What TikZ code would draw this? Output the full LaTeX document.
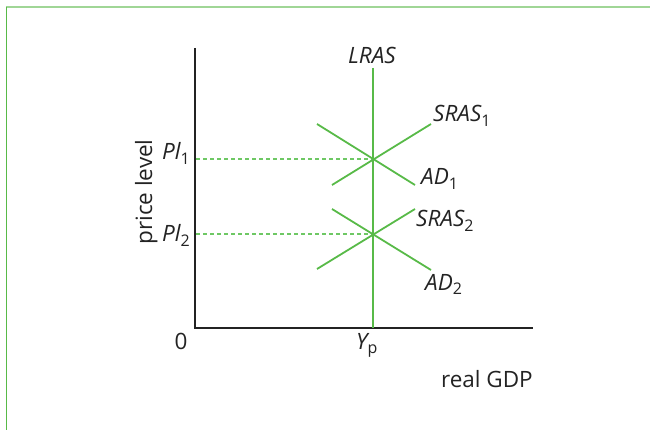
\documentclass[tikz,border=0pt]{standalone}
\usepackage{fontspec}
\setmainfont{Open Sans}
\definecolor{curve}{RGB}{88,186,72}
\definecolor{dashgreen}{RGB}{110,200,100}
\definecolor{frametop}{RGB}{160,214,150}
\definecolor{axis}{RGB}{35,35,35}
\newcommand{\lowsub}[1]{\raisebox{-0.22em}{\upshape\fontsize{16}{16}\selectfont #1}}
\begin{document}
\begin{tikzpicture}[x=1pt,y=-1pt,
  curveline/.style={draw=curve,line width=1.8pt},
  axisline/.style={draw=axis,line width=1.8pt},
  guide/.style={draw=dashgreen,line width=1.2pt,dash pattern=on 4pt off 3pt},
  lbl/.style={font=\fontsize{22.5}{26}\selectfont\itshape,text=axis,inner sep=0pt},
  plain/.style={font=\fontsize{22.5}{26}\selectfont,text=axis,inner sep=0pt}]
\useasboundingbox (0,0) rectangle (650,430);
% frame
\draw[frametop,line width=2pt] (6,7) -- (650,7);
\draw[curve,line width=1.6pt] (6.5,7) -- (6.5,430);
% axes
\coordinate (O) at (195,328);
\coordinate (ytop) at (195,48);
\coordinate (xend) at (533,328);
\draw[axisline] (ytop) -- (O) -- (xend);
% LRAS
\coordinate (lrasT) at (373,68);
\coordinate (lrasB) at (373,328);
\draw[curveline] (lrasT) -- (lrasB);
% equilibria
\coordinate (E1) at (373,159);
\coordinate (E2) at (373,234);
\coordinate (p1) at (196,159);
\coordinate (p2) at (196,234);
\draw[guide] (p1) -- (E1);
\draw[guide] (p2) -- (E2);
% curves
\coordinate (s1a) at (332,185); \coordinate (s1b) at (431,124);
\coordinate (d1a) at (317,124); \coordinate (d1b) at (415,185);
\coordinate (s2a) at (317,269); \coordinate (s2b) at (415,209);
\coordinate (d2a) at (332,209); \coordinate (d2b) at (431,270);
\draw[curveline] (s1a) -- (s1b);
\draw[curveline] (d1a) -- (d1b);
\draw[curveline] (s2a) -- (s2b);
\draw[curveline] (d2a) -- (d2b);
% labels
\node[lbl,anchor=base] (LRAS) at (372,64) {LRAS};
\node[lbl,anchor=base west] (SRAS1) at (433,122) {SRAS\lowsub{1}};
\node[lbl,anchor=base west] (AD1) at (421,185) {AD\lowsub{1}};
\node[lbl,anchor=base west] (SRAS2) at (416,227) {SRAS\lowsub{2}};
\node[lbl,anchor=base west] (AD2) at (425,290) {AD\lowsub{2}};
\node[lbl,anchor=base east] (PL1) at (190,160) {Pl\lowsub{1}};
\node[lbl,anchor=base east] (PL2) at (190,242) {Pl\lowsub{2}};
\node[plain,rotate=90,anchor=base] (ylab) at (152,192) {price level};
\node[plain,anchor=base] (zero) at (181,349) {0};
\node[lbl,anchor=base west] (Yp) at (356,349) {Y\lowsub{p}};
\node[plain,anchor=base east] (xlab) at (533,387) {real GDP};
\end{tikzpicture}
\end{document}
